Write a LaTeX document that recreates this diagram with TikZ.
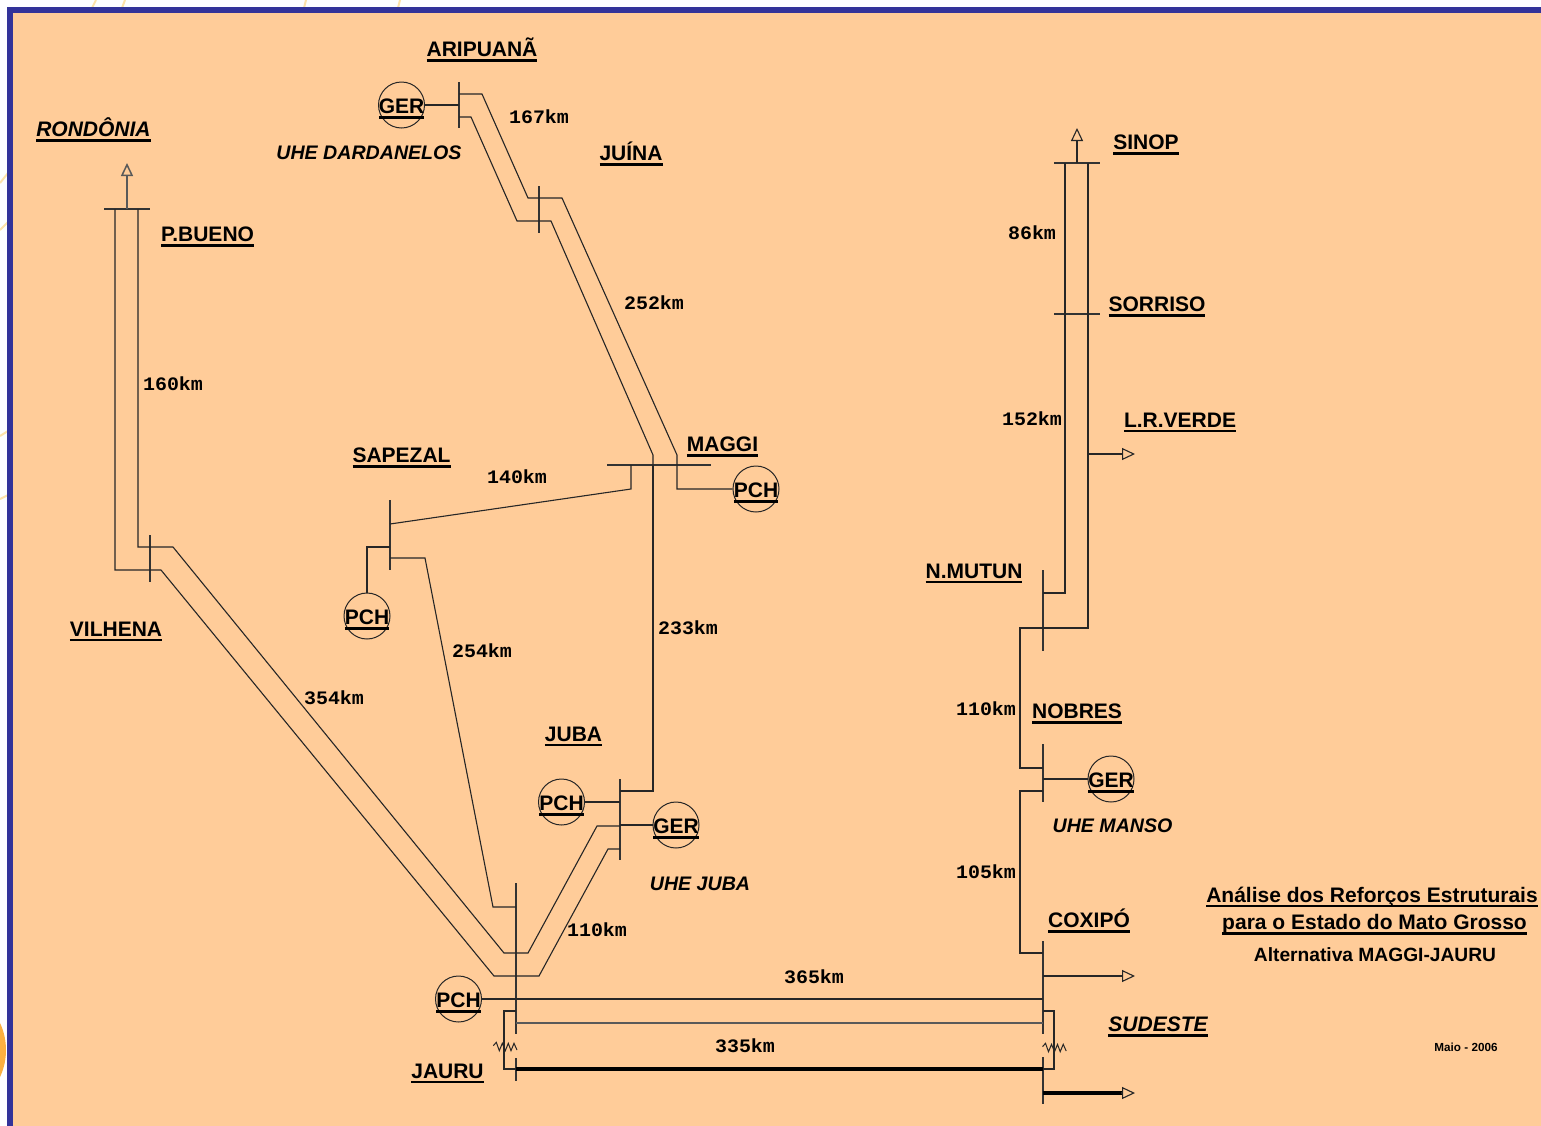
\documentclass[tikz,border=0pt]{standalone}
\usepackage{fontspec}
\setmainfont{Liberation Sans}
\newfontfamily\monof{Liberation Mono}[FakeStretch=1.05]
\usetikzlibrary{arrows.meta}
\definecolor{peach}{HTML}{FFCC99}
\definecolor{framecol}{HTML}{333399}
\definecolor{arccol}{HTML}{FFE3A8}
\definecolor{blobcol}{HTML}{FBB040}
\newcommand{\ulbox}[1]{\setbox0=\hbox{#1}\rlap{\vrule width \wd0 height -2.4pt depth 5pt}\box0}
\newcommand{\gentext}[1]{\raisebox{-8.7pt}[0pt][0pt]{\makebox[0pt]{\ulbox{#1}}}}
\tikzset{
 x=1pt,y=-1pt,
 line/.style={draw=black!85,line width=1.1pt,line join=miter},
 busbar/.style={draw=black!80,line width=1.3pt},
 heavy/.style={draw=black,line width=3.4pt},
 flow/.style={draw=black!85,line width=1.1pt,-{Triangle[open,length=13pt,width=12pt,fill=peach]}},
 gen/.style={circle,draw=black!85,line width=1pt,minimum size=46pt,inner sep=0pt,font=\fontsize{21}{24}\selectfont\bfseries},
 lbl/.style={inner sep=0pt,font=\fontsize{21}{24}\selectfont\bfseries},
 ilbl/.style={inner sep=0pt,font=\fontsize{21}{24}\selectfont\bfseries\itshape},
 plant/.style={inner sep=0pt,font=\fontsize{19.6}{22}\selectfont\bfseries\itshape},
 km/.style={inner sep=0pt,font=\monof\fontsize{19}{20}\selectfont\bfseries},
 res/.style={draw=black!85,line width=1pt},
}
\begin{document}
\begin{tikzpicture}
\useasboundingbox (0,0) rectangle (1541,1125);
\fill[white] (0,0) rectangle (1541,1125);
% faint background arcs
\begin{scope}[draw=arccol,line width=2pt]
\draw (96,0) -- (92,8);
\draw (125,0) -- (122,8);
\draw (306,0) -- (304,8);
\draw (400,0) -- (398,8);
\draw (0,183) -- (8,173);
\draw (0,230) -- (8,222);
\draw (0,436) -- (8,431);
\draw (0,499) -- (8,495);
\end{scope}
\fill[blobcol] (-58,1050) circle (64);
\fill[peach,draw=framecol,line width=5.5pt] (10,10) rectangle (1560,1150);

% buses
\draw[busbar] (104,209) -- (150,209);
\draw[busbar] (150,535) -- (150,582);
\draw[busbar] (459,82) -- (459,128);
\draw[busbar] (539,186) -- (539,233);
\draw[busbar] (607,465) -- (711,465);
\draw[busbar] (390,500) -- (390,570);
\draw[busbar] (620,779) -- (620,860);
\draw[busbar] (516,883) -- (516,1034);
\draw[busbar] (516,1058) -- (516,1081);
\draw[busbar] (1054,163) -- (1100,163);
\draw[busbar] (1054,314) -- (1100,314);
\draw[busbar] (1043,570) -- (1043,651);
\draw[busbar] (1043,744) -- (1043,802);
\draw[busbar] (1043,941) -- (1043,1034);
\draw[busbar] (1043,1057) -- (1043,1104);

% named tap points
\coordinate (pbA) at (115,209);
\coordinate (pbB) at (138,209);
\coordinate (jubaA) at (620,826);
\coordinate (jubaB) at (620,849);
\coordinate (jubaC) at (620,791);
\coordinate (jubaG) at (620,825);
\coordinate (jubaP) at (620,802);
\coordinate (ariA) at (459,94);
\coordinate (ariB) at (459,117);
\coordinate (ariG) at (459,105);
\coordinate (magA) at (631,465);
\coordinate (magB) at (653,465);
\coordinate (sapA) at (390,524);
\coordinate (sapB) at (390,558);
\coordinate (sapC) at (390,547);
\coordinate (jaB) at (516,907);
\coordinate (jaD) at (516,1023);
\coordinate (jaE) at (516,1011);
\coordinate (jaF) at (516,1069);
\coordinate (coA) at (1043,999);
\coordinate (coB) at (1043,1023);
\coordinate (coC) at (1043,1011);
\coordinate (coD) at (1043,1069);
\coordinate (coE) at (1043,976);
\coordinate (coF) at (1043,953);
\coordinate (coG) at (1043,1093);
\coordinate (siA) at (1065,163);
\coordinate (siB) at (1088,163);
\coordinate (siC) at (1077,163);
\coordinate (muA) at (1043,593);
\coordinate (noA) at (1043,768);
\coordinate (noB) at (1043,791);
\coordinate (noG) at (1043,779);
\coordinate (lrA) at (1088,454);
\coordinate (lrB) at (1135,454);
\coordinate (siTip) at (1077,128);
\coordinate (roTip) at (127,163);
\coordinate (roA) at (127,209);
\coordinate (coTip) at (1135,976);
\coordinate (suTip) at (1135,1093);
\coordinate (zjA) at (493.3,1045.7);
\coordinate (zcA) at (1042.5,1046.7);

% generators
\node[gen] (gerA) at (401.5,105) {\gentext{GER}};
\node[gen] (pchM) at (756,489) {\gentext{PCH}};
\node[gen] (pchS) at (367,616) {\gentext{PCH}};
\node[gen] (pchJ) at (561.5,802) {\gentext{PCH}};
\node[gen] (gerJ) at (676,825) {\gentext{GER}};
\node[gen] (pchJa) at (458.5,999) {\gentext{PCH}};
\node[gen] (gerN) at (1111,779) {\gentext{GER}};

% lines
\draw[line] (pbA) -- (115,570) -- (161,570) -- (494,976) -- (539,976) -- (608,849) -- (jubaB);
\draw[line] (pbB) -- (138,547) -- (173,547) -- (504,953) -- (528,953) -- (597,826) -- (jubaA);
\draw[line] (ariA) -- (482,94) -- (528,198) -- (562,198) -- (677,455) -- (677,489) -- (pchM);
\draw[line] (ariB) -- (471,117) -- (517,221) -- (551,221) -- (653,455) -- (magB);
\draw[line] (magB) -- (653,791) -- (jubaC);
\draw[line] (sapA) -- (631,489) -- (magA);
\draw[line] (sapB) -- (425,558) -- (493,907) -- (jaB);
\draw[line] (sapC) -- (367,547) -- (pchS);
\draw[line] (gerA) -- (ariG);
\draw[line] (pchJ) -- (jubaP);
\draw[line] (gerJ) -- (jubaG);
\draw[line] (pchJa) -- (coA);
\draw[line,line width=1.5pt,draw=black!65] (jaD) -- (coB);
\draw[heavy] (jaF) -- (coD);
\draw[line] (jaE) -- (504,1011) -- (504,1069) -- (jaF);
\draw[line] (coC) -- (1054,1011) -- (1054,1069) -- (coD);
\draw[res] (zjA) -- ++(3,-3.4) -- ++(3,8.4) -- ++(3,-7.4) -- ++(3,7.4) -- ++(3,-7.4) -- ++(2.7,7.4) -- ++(3,-7.4) -- ++(3,6.7);
\draw[res] (zcA) -- ++(3,-3.4) -- ++(3,8.4) -- ++(3,-7.4) -- ++(3,7.4) -- ++(3,-7.4) -- ++(2.7,7.4) -- ++(3,-7.4) -- ++(3,6.7);
\draw[line] (siA) -- (1065,593) -- (muA);
\draw[line] (siB) -- (1088,628) -- (1020,628) -- (1020,768) -- (noA);
\draw[line] (noB) -- (1020,791) -- (1020,953) -- (coF);
\draw[line] (gerN) -- (noG);

% arrows
\draw[flow,line width=1.5pt,draw=black!65] (roA) -- (roTip);
\draw[flow] (siC) -- (siTip);
\draw[flow] (lrA) -- (lrB);
\draw[flow] (coE) -- (coTip);
\draw[line width=3.4pt,draw=black] (coG) -- (1124,1093);
\draw[flow] (1121,1093) -- (suTip);

% labels
\node[lbl] (t1) at (482,50) {\ulbox{ARIPUANÃ}};
\node[ilbl] (t2) at (93.5,130) {\ulbox{RONDÔNIA}};
\node[plant] (t3) at (369,153) {UHE DARDANELOS};
\node[lbl] (t4) at (631,154) {\ulbox{JUÍNA}};
\node[lbl] (t5) at (207.5,237) {\ulbox{P.BUENO}};
\node[lbl] (t6) at (1146,145) {\ulbox{SINOP}};
\node[lbl] (t7) at (1157,307) {\ulbox{SORRISO}};
\node[lbl] (t8) at (1180,422.5) {\ulbox{L.R.VERDE}};
\node[lbl] (t9) at (401.5,458) {\ulbox{SAPEZAL}};
\node[lbl] (t10) at (722.5,447) {\ulbox{MAGGI}};
\node[lbl] (t11) at (974,573.5) {\ulbox{N.MUTUN}};
\node[lbl] (t12) at (116,631.5) {\ulbox{VILHENA}};
\node[lbl] (t13) at (1077,714) {\ulbox{NOBRES}};
\node[lbl] (t14) at (573.5,736.5) {\ulbox{JUBA}};
\node[plant] (t15) at (1112.5,826) {UHE MANSO};
\node[plant] (t16) at (700,884) {UHE JUBA};
\node[lbl] (t17) at (1089,921) {\ulbox{COXIPÓ}};
\node[ilbl] (t18) at (1158,1027) {\ulbox{SUDESTE}};
\node[lbl] (t19) at (447.5,1073.5) {\ulbox{JAURU}};
\node[lbl] (t20) at (1372,897) {\ulbox{Análise dos Reforços Estruturais}};
\node[lbl] (t21) at (1374.5,924.5) {\ulbox{para o Estado do Mato Grosso}};
\node[inner sep=0pt,font=\fontsize{19.2}{21}\selectfont\bfseries] (t22) at (1375,955) {Alternativa MAGGI-JAURU};
\node[inner sep=0pt,font=\fontsize{11.7}{13}\selectfont\bfseries] (t23) at (1466,1047) {Maio - 2006};

\node[km] (k1) at (539,117) {167km};
\node[km] (k2) at (654,303) {252km};
\node[km] (k3) at (173,384) {160km};
\node[km] (k4) at (517,477) {140km};
\node[km] (k5) at (1032,233) {86km};
\node[km] (k6) at (1032,419) {152km};
\node[km] (k7) at (688,628) {233km};
\node[km] (k8) at (482,651) {254km};
\node[km] (k9) at (334,698) {354km};
\node[km] (k10) at (986,709) {110km};
\node[km] (k11) at (986,872) {105km};
\node[km] (k12) at (597,930) {110km};
\node[km] (k13) at (814,977) {365km};
\node[km] (k14) at (745,1046) {335km};
\end{tikzpicture}
\end{document}
